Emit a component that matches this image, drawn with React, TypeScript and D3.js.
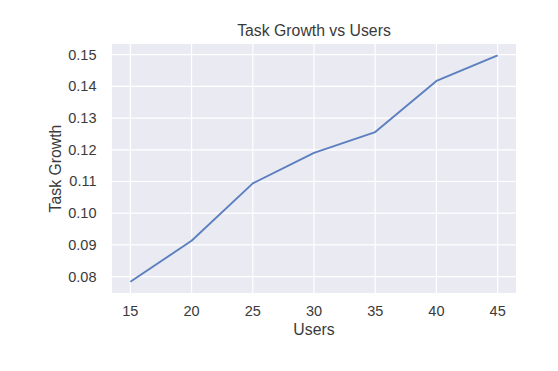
import * as d3 from "d3";

const users = [15, 20, 25, 30, 35, 40, 45];
const taskGrowth = [0.0784, 0.0913, 0.1094, 0.119, 0.1256, 0.1417, 0.1498];
const xTicks = [15, 20, 25, 30, 35, 40, 45];
const yTicks = [0.08, 0.09, 0.1, 0.11, 0.12, 0.13, 0.14, 0.15];

const width = 558;
const height = 371;
const margin = { top: 44, right: 42, bottom: 78, left: 112 };
const font = "'Liberation Sans', Arial, sans-serif";
const ink = "#3a3a3a";

export default function App() {
  const x0 = d3.min(users)!;
  const x1 = d3.max(users)!;
  const xPad = (x1 - x0) * 0.05;
  const x = d3
    .scaleLinear()
    .domain([x0 - xPad, x1 + xPad])
    .range([margin.left, width - margin.right]);

  const y0 = d3.min(taskGrowth)!;
  const y1 = d3.max(taskGrowth)!;
  const yPad = (y1 - y0) * 0.05;
  const y = d3
    .scaleLinear()
    .domain([y0 - yPad, y1 + yPad])
    .range([height - margin.bottom, margin.top]);

  const line = d3
    .line<number>()
    .x((_, i) => x(users[i]))
    .y((d) => y(d));

  const plotW = width - margin.left - margin.right;
  const plotH = height - margin.top - margin.bottom;

  return (
    <svg
      width={width}
      height={height}
      style={{ position: "absolute", left: 0, top: 0, background: "#fff" }}
      fontFamily={font}
    >
      <rect x={margin.left} y={margin.top} width={plotW} height={plotH} fill="#eaeaf2" />
      {xTicks.map((t) => (
        <g key={"x" + t}>
          <line x1={x(t)} x2={x(t)} y1={margin.top} y2={margin.top + plotH} stroke="#fff" strokeWidth={1.2} />
          <text x={x(t)} y={height - margin.bottom + 18} fontSize={14.5} fill={ink} textAnchor="middle" dominantBaseline="central">
            {t}
          </text>
        </g>
      ))}
      {yTicks.map((t) => (
        <g key={"y" + t}>
          <line x1={margin.left} x2={margin.left + plotW} y1={y(t)} y2={y(t)} stroke="#fff" strokeWidth={1.2} />
          <text x={margin.left - 15.5} y={y(t)} fontSize={14.5} fill={ink} textAnchor="end" dominantBaseline="central">
            {t.toFixed(2)}
          </text>
        </g>
      ))}
      <path d={line(taskGrowth) ?? ""} fill="none" stroke="#5b7fbf" strokeWidth={1.9} strokeLinejoin="round" />
      <text x={margin.left + plotW / 2} y={30} fontSize={15.8} fill={ink} textAnchor="middle" dominantBaseline="central">
        Task Growth vs Users
      </text>
      <text x={margin.left + plotW / 2} y={329} fontSize={15.8} fill={ink} textAnchor="middle" dominantBaseline="central">
        Users
      </text>
      <text
        transform={`translate(55,${margin.top + plotH / 2}) rotate(-90)`}
        fontSize={15.8}
        fill={ink}
        textAnchor="middle"
        dominantBaseline="central"
      >
        Task Growth
      </text>
    </svg>
  );
}
